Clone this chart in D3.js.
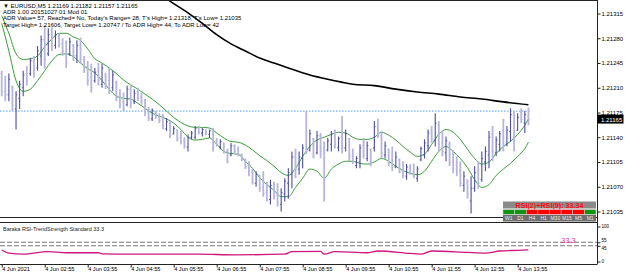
<!DOCTYPE html>
<html>
<head>
<meta charset="utf-8">
<script src="https://cdn.jsdelivr.net/npm/d3@7"></script>
<style>
  body { margin: 0; background: #fff; }
  svg { display: block; }
  text { font-family: "Liberation Sans", Arial, sans-serif; }
</style>
</head>
<body>
<div id="chart"></div>
<script>
// EURUSD M5 bars, 4 Jun 2021 01:55 .. 14:10
const barOpen = [1.21230,1.21205,1.21200,1.21210,1.21180,1.21195,1.21210,1.21230,1.21230,1.21248,
  1.21238,1.21255,1.21278,1.21258,1.21285,1.21270,1.21283,1.21272,1.21262,1.21258,
  1.21270,1.21255,1.21270,1.21250,1.21240,1.21225,1.21220,1.21235,1.21215,1.21228,
  1.21220,1.21210,1.21218,1.21198,1.21190,1.21186,1.21208,1.21190,1.21204,1.21196,
  1.21192,1.21176,1.21166,1.21176,1.21170,1.21166,1.21152,1.21160,1.21145,1.21150,
  1.21140,1.21136,1.21126,1.21140,1.21140,1.21152,1.21146,1.21150,1.21144,1.21150,
  1.21136,1.21126,1.21132,1.21120,1.21115,1.21128,1.21122,1.21116,1.21108,1.21100,
  1.21090,1.21075,1.21086,1.21070,1.21062,1.21052,1.21072,1.21058,1.21045,1.21060,
  1.21075,1.21088,1.21112,1.21095,1.21110,1.21128,1.21122,1.21138,1.21118,1.21142,
  1.21125,1.21122,1.21130,1.21145,1.21125,1.21140,1.21125,1.21138,1.21115,1.21100,
  1.21105,1.21128,1.21110,1.21122,1.21125,1.21155,1.21142,1.21115,1.21122,1.21108,
  1.21098,1.21108,1.21095,1.21085,1.21098,1.21092,1.21082,1.21108,1.21115,1.21128,
  1.21150,1.21135,1.21158,1.21132,1.21118,1.21130,1.21106,1.21100,1.21092,1.21072,
  1.21080,1.21050,1.21068,1.21092,1.21080,1.21105,1.21115,1.21145,1.21118,1.21130,
  1.21150,1.21130,1.21148,1.21170,1.21150,1.21175,1.21160,1.21169];
const barHigh = [1.21234,1.21227,1.21230,1.21213,1.21205,1.21220,1.21234,1.21241,1.21252,1.21255,
  1.21269,1.21284,1.21298,1.21294,1.21295,1.21291,1.21287,1.21280,1.21277,1.21281,
  1.21272,1.21277,1.21281,1.21255,1.21248,1.21244,1.21238,1.21245,1.21244,1.21231,
  1.21238,1.21234,1.21220,1.21208,1.21203,1.21213,1.21213,1.21208,1.21210,1.21203,
  1.21194,1.21183,1.21181,1.21177,1.21174,1.21173,1.21167,1.21163,1.21156,1.21151,
  1.21149,1.21140,1.21144,1.21149,1.21156,1.21156,1.21153,1.21151,1.21151,1.21153,
  1.21139,1.21137,1.21132,1.21124,1.21132,1.21130,1.21127,1.21117,1.21110,1.21106,
  1.21096,1.21092,1.21087,1.21092,1.21077,1.21080,1.21077,1.21075,1.21068,1.21082,
  1.21096,1.21120,1.21124,1.21120,1.21130,1.21177,1.21151,1.21139,1.21149,1.21146,
  1.21134,1.21139,1.21149,1.21151,1.21141,1.21170,1.21151,1.21139,1.21124,1.21113,
  1.21130,1.21139,1.21134,1.21124,1.21163,1.21166,1.21149,1.21134,1.21124,1.21127,
  1.21120,1.21110,1.21106,1.21102,1.21102,1.21103,1.21099,1.21127,1.21137,1.21151,
  1.21156,1.21174,1.21163,1.21149,1.21141,1.21134,1.21122,1.21113,1.21106,1.21092,
  1.21080,1.21085,1.21099,1.21106,1.21120,1.21127,1.21149,1.21156,1.21141,1.21149,
  1.21166,1.21156,1.21181,1.21177,1.21174,1.21181,1.21177,1.21182];
const barLow = [1.21198,1.21191,1.21191,1.21177,1.21151,1.21180,1.21198,1.21213,1.21227,1.21224,
  1.21234,1.21241,1.21237,1.21255,1.21262,1.21265,1.21267,1.21255,1.21238,1.21255,
  1.21248,1.21245,1.21244,1.21231,1.21213,1.21203,1.21217,1.21213,1.21210,1.21208,
  1.21201,1.21205,1.21191,1.21181,1.21177,1.21184,1.21181,1.21187,1.21191,1.21186,
  1.21170,1.21163,1.21163,1.21166,1.21160,1.21151,1.21149,1.21139,1.21144,1.21134,
  1.21130,1.21124,1.21120,1.21137,1.21137,1.21144,1.21141,1.21143,1.21139,1.21120,
  1.21127,1.21123,1.21117,1.21103,1.21113,1.21116,1.21113,1.21106,1.21095,1.21085,
  1.21073,1.21070,1.21063,1.21056,1.21049,1.21045,1.21052,1.21042,1.21035,1.21049,
  1.21053,1.21068,1.21082,1.21087,1.21096,1.21116,1.21120,1.21110,1.21116,1.21110,
  1.21049,1.21120,1.21120,1.21124,1.21120,1.21117,1.21120,1.21106,1.21102,1.21096,
  1.21096,1.21110,1.21106,1.21099,1.21120,1.21139,1.21110,1.21110,1.21099,1.21092,
  1.21096,1.21089,1.21082,1.21080,1.21087,1.21082,1.21077,1.21106,1.21110,1.21120,
  1.21132,1.21127,1.21120,1.21113,1.21106,1.21099,1.21089,1.21085,1.21070,1.21063,
  1.21053,1.21032,1.21063,1.21067,1.21077,1.21092,1.21096,1.21106,1.21113,1.21120,
  1.21120,1.21127,1.21134,1.21120,1.21149,1.21160,1.21146,1.21157];
const barClose = [1.21205,1.21200,1.21222,1.21185,1.21200,1.21215,1.21228,1.21220,1.21248,1.21235,
  1.21262,1.21278,1.21250,1.21285,1.21270,1.21285,1.21272,1.21262,1.21245,1.21275,
  1.21255,1.21270,1.21250,1.21238,1.21220,1.21210,1.21232,1.21220,1.21238,1.21212,
  1.21206,1.21228,1.21196,1.21186,1.21180,1.21208,1.21188,1.21202,1.21195,1.21190,
  1.21174,1.21168,1.21178,1.21170,1.21164,1.21156,1.21162,1.21143,1.21152,1.21138,
  1.21134,1.21128,1.21140,1.21146,1.21152,1.21148,1.21151,1.21146,1.21149,1.21126,
  1.21130,1.21134,1.21120,1.21106,1.21128,1.21120,1.21116,1.21108,1.21098,1.21088,
  1.21076,1.21088,1.21068,1.21060,1.21052,1.21072,1.21056,1.21048,1.21062,1.21078,
  1.21090,1.21112,1.21095,1.21112,1.21125,1.21120,1.21145,1.21115,1.21142,1.21120,
  1.21080,1.21135,1.21145,1.21130,1.21138,1.21125,1.21145,1.21112,1.21105,1.21110,
  1.21125,1.21115,1.21128,1.21105,1.21155,1.21142,1.21118,1.21128,1.21105,1.21098,
  1.21112,1.21092,1.21086,1.21098,1.21090,1.21085,1.21095,1.21124,1.21132,1.21146,
  1.21138,1.21160,1.21130,1.21120,1.21135,1.21104,1.21095,1.21090,1.21075,1.21085,
  1.21060,1.21068,1.21090,1.21075,1.21110,1.21120,1.21140,1.21120,1.21136,1.21145,
  1.21128,1.21150,1.21172,1.21135,1.21168,1.21165,1.21172,1.21165];

// green band lines (bar index -> value)
const bandIdx = [0,2,4,6,8,10,12,14,16,18,20,22,24,26,28,30,32,34,36,38,40,42,44,46,48,50,
  52,54,56,58,60,62,64,66,68,70,72,74,76,78,80,82,84,86,88,90,92,94,96,98,100,
  102,104,106,108,110,112,114,116,118,120,122,124,126,128,130,132,134,136,138,140,142,144,146,147];
const bandUpper = [1.21312,1.21287,1.21258,1.21250,1.21251,1.21255,1.21268,1.21279,1.21287,1.21287,
  1.21282,1.21277,1.21265,1.21251,1.21245,1.21238,1.21230,1.21221,1.21214,1.21208,
  1.21201,1.21194,1.21186,1.21177,1.21168,1.21161,1.21156,1.21154,1.21154,1.21153,
  1.21146,1.21139,1.21134,1.21133,1.21129,1.21122,1.21114,1.21107,1.21099,1.21090,
  1.21086,1.21096,1.21113,1.21127,1.21136,1.21140,1.21144,1.21147,1.21146,1.21140,
  1.21137,1.21137,1.21140,1.21147,1.21143,1.21136,1.21127,1.21119,1.21113,1.21116,
  1.21130,1.21144,1.21151,1.21147,1.21137,1.21123,1.21110,1.21102,1.21105,1.21117,
  1.21127,1.21134,1.21144,1.21157,1.21166];
const bandLower = [1.21301,1.21262,1.21220,1.21205,1.21208,1.21220,1.21234,1.21248,1.21257,1.21258,
  1.21254,1.21245,1.21237,1.21231,1.21220,1.21208,1.21198,1.21195,1.21194,1.21188,
  1.21181,1.21174,1.21170,1.21166,1.21160,1.21151,1.21140,1.21136,1.21137,1.21139,
  1.21130,1.21120,1.21117,1.21116,1.21106,1.21096,1.21083,1.21073,1.21065,1.21056,
  1.21056,1.21069,1.21082,1.21095,1.21092,1.21082,1.21095,1.21102,1.21106,1.21106,
  1.21103,1.21102,1.21105,1.21110,1.21106,1.21099,1.21093,1.21089,1.21087,1.21092,
  1.21106,1.21120,1.21127,1.21120,1.21110,1.21097,1.21080,1.21069,1.21073,1.21086,
  1.21095,1.21103,1.21113,1.21124,1.21133];

// long moving average (black)
const maIdx = [46,48,52,56,60,64,68,72,76,80,86,92,98,104,110,116,122,128,134,140,147];
const maValue = [1.21336,1.21329,1.21316,1.21301,1.21285,1.21272,1.21262,1.21252,1.21245,1.21238,
  1.21228,1.21221,1.21215,1.21213,1.21208,1.21204,1.21201,1.21197,1.21194,1.21190,1.21186];

const levelLine = 1.21177;
const lastPrice = 1.21165;
const priceTicks = [1.21315,1.21280,1.21245,1.21210,1.21175,1.21140,1.21105,1.21070,1.21035];

const timeTickIdx = [0,12,24,36,48,60,72,84,96,108,120,132,144];
const timeLabels = ["4 Jun 2021","4 Jun 02:55","4 Jun 03:55","4 Jun 04:55","4 Jun 05:55","4 Jun 06:55",
  "4 Jun 07:55","4 Jun 08:55","4 Jun 09:55","4 Jun 10:55","4 Jun 11:55","4 Jun 12:55","4 Jun 13:55"];

const headerLines = [
  "\u25BC EURUSD,M5  1.21169 1.21182 1.21157 1.21165",
  "ADR 1.00 20151027 01 Mod 01",
  "ADR Value= 57, Reached= No, Today's Range= 28, T's High= 1.21318, T's Low= 1.21035",
  "Target High= 1.21606, Target Low= 1.20747 / To ADR High= 44, To ADR Low= 42"
];

// sub window
const rsiIdx = [0,2,6,13,18,27,28,37,55,65,79,81,89,90,93,102,105,114,117,120,130,135,139,144,147];
const rsiValue = [33,24,21,28,25,25,22,21,21,19,21,28,29,21,28,25,30,23,21,30,26,24,30,32,33.3];
const rsiLevels = [55,45];
const rsiTicks = [100,55,45,0];
const subTitle = "Baraka RSI-TrendStrength Standard 33.3";
const subValue = "33.3";

// RSI panel widget
const widgetTitle = "RSI(2)+RSI(9): 33.34";
const tfNames = ["W1","D1","H4","H1","M30","M15","M5","M1"];
const tfUp = [true,true,false,false,false,false,false,true];

const W = 625, H = 275, plotR = 597, mainB = 217, subT = 222, axisY = 264;

const svg = d3.select("#chart").append("svg")
  .attr("width", W).attr("height", H);

const x = d3.scaleLinear().domain([0, 147]).range([1.7, 528.4]);
const y = d3.scaleLinear().domain([1.21035, 1.21315]).range([211.5, 13.5]);
const ys = d3.scaleLinear().domain([0, 100]).range([261.5, 226.5]);

svg.append("clipPath").attr("id", "mainClip")
  .append("rect").attr("x", 0).attr("y", 0).attr("width", plotR).attr("height", mainB);

const main = svg.append("g").attr("clip-path", "url(#mainClip)");

// frame lines
const frame = [[0, 0.5, plotR, 0.5], [0, mainB + 0.5, plotR, mainB + 0.5],
               [0, subT + 0.5, plotR, subT + 0.5], [0, axisY + 0.5, plotR, axisY + 0.5],
               [plotR + 0.5, 0, plotR + 0.5, axisY + 0.5]];
svg.selectAll(".frame").data(frame).enter().append("line")
  .attr("x1", d => d[0]).attr("y1", d => d[1]).attr("x2", d => d[2]).attr("y2", d => d[3])
  .attr("stroke", "#222").attr("stroke-width", 1);

// level line
main.append("line")
  .attr("x1", 0).attr("x2", x(147) + 2)
  .attr("y1", y(levelLine)).attr("y2", y(levelLine))
  .attr("stroke", "#4aa3ff").attr("stroke-width", 1).attr("stroke-dasharray", "1.5,1.5");

// black MA
const maLine = d3.line().x(d => x(d[0])).y(d => y(d[1])).curve(d3.curveMonotoneX);
main.append("path").datum(maIdx.map((d, i) => [d, maValue[i]]))
  .attr("fill", "none").attr("stroke", "#000").attr("stroke-width", 1.6).attr("d", maLine);

// bands
[bandUpper, bandLower].forEach(arr => {
  main.append("path").datum(bandIdx.map((d, i) => [d, arr[i]]))
    .attr("fill", "none").attr("stroke", "#3a9e3a").attr("stroke-width", 1).attr("d", maLine);
});

// bars
const bars = barOpen.map((o, i) => ({i, o, h: barHigh[i], l: barLow[i], c: barClose[i]}));
const upCol = "#4c4c9a", dnCol = "#b6b6dc";
const g = main.selectAll(".bar").data(bars).enter().append("g");
g.append("line")
  .attr("x1", d => x(d.i)).attr("x2", d => x(d.i))
  .attr("y1", d => y(d.h)).attr("y2", d => y(d.l))
  .attr("stroke", d => d.c >= d.o ? upCol : dnCol)
  .attr("stroke-width", d => d.c >= d.o ? 1.1 : 1.8);
g.append("line")
  .attr("x1", d => x(d.i) - 1.3).attr("x2", d => x(d.i))
  .attr("y1", d => y(d.o)).attr("y2", d => y(d.o))
  .attr("stroke", d => d.c >= d.o ? upCol : dnCol).attr("stroke-width", 0.9);
g.append("line")
  .attr("x1", d => x(d.i)).attr("x2", d => x(d.i) + 1.3)
  .attr("y1", d => y(d.c)).attr("y2", d => y(d.c))
  .attr("stroke", d => d.c >= d.o ? upCol : dnCol).attr("stroke-width", 0.9);

// header text
svg.selectAll(".hdr").data(headerLines).enter().append("text")
  .attr("x", 3).attr("y", (d, i) => 7.5 + i * 6.4)
  .attr("font-size", "6px").attr("fill", "#000")
  .text(d => d);

// price axis
const pAxis = svg.append("g").attr("transform", `translate(${plotR + 0.5},0)`)
  .call(d3.axisRight(y).tickValues(priceTicks).tickSize(3).tickFormat(d3.format(".5f")));
pAxis.select(".domain").remove();
pAxis.selectAll("text").attr("x", 4).attr("font-size", "6px").attr("fill", "#000")
  .attr("font-family", "Liberation Sans, Arial, sans-serif");
pAxis.selectAll("line").attr("stroke", "#222");

// last price tag
svg.append("rect").attr("x", plotR + 0.5).attr("y", y(lastPrice) - 5).attr("width", 26).attr("height", 9)
  .attr("fill", "#000");
svg.append("text").attr("x", plotR + 4).attr("y", y(lastPrice) + 2)
  .attr("font-size", "6px").attr("fill", "#fff").text(d3.format(".5f")(lastPrice));

// sub window
svg.selectAll(".lvl").data(rsiLevels).enter().append("line")
  .attr("x1", 0).attr("x2", plotR).attr("y1", d => ys(d)).attr("y2", d => ys(d))
  .attr("stroke", "#777").attr("stroke-width", 1).attr("stroke-dasharray", "5,2");

svg.append("path").datum(rsiIdx.map((d, i) => [d, rsiValue[i]]))
  .attr("fill", "none").attr("stroke", "#d0157f").attr("stroke-width", 1.3)
  .attr("d", d3.line().x(d => x(d[0])).y(d => ys(d[1])).curve(d3.curveMonotoneX));

svg.append("text").attr("x", 3).attr("y", 231).attr("font-size", "5.5px").attr("fill", "#222").text(subTitle);
svg.append("text").attr("x", 561).attr("y", 243).attr("font-size", "7.5px").attr("fill", "#e0409a").text(subValue);

const sAxis = svg.append("g").attr("transform", `translate(${plotR + 0.5},0)`)
  .call(d3.axisRight(ys).tickValues(rsiTicks).tickSize(3));
sAxis.select(".domain").remove();
sAxis.selectAll("text").attr("x", 4).attr("font-size", "4.6px").attr("fill", "#000")
  .attr("font-family", "Liberation Sans, Arial, sans-serif")
  .attr("dy", d => d === 55 ? "-0.1em" : d === 45 ? "0.75em" : "0.32em");
sAxis.selectAll("line").attr("stroke", "#222");

// time axis
const tAxis = svg.append("g").attr("transform", `translate(0,${axisY + 0.5})`)
  .call(d3.axisBottom(x).tickValues(timeTickIdx).tickSize(3).tickFormat((d, i) => timeLabels[i]));
tAxis.select(".domain").remove();
tAxis.selectAll("text").attr("text-anchor", "start").attr("x", 0).attr("y", 3)
  .attr("font-size", "5.6px").attr("fill", "#000")
  .attr("font-family", "Liberation Sans, Arial, sans-serif");
tAxis.selectAll("line").attr("stroke", "#222");

// RSI widget
const wx = 503, ww = 93, cw = ww / tfNames.length;
svg.append("rect").attr("x", wx).attr("y", 201.5).attr("width", ww).attr("height", 7).attr("fill", "#8a8a8a");
svg.append("text").attr("x", wx + ww / 2).attr("y", 207.6).attr("text-anchor", "middle")
  .attr("font-size", "7.2px").attr("font-weight", "bold").attr("fill", "#ff1010").text(widgetTitle);
svg.selectAll(".cell").data(tfNames).enter().append("rect")
  .attr("x", (d, i) => wx + i * cw).attr("y", 209.5).attr("width", cw).attr("height", 5)
  .attr("fill", (d, i) => tfUp[i] ? "#129412" : "#ff0000")
  .attr("stroke", "#d8d8d8").attr("stroke-width", 0.5);
svg.append("rect").attr("x", wx).attr("y", 215).attr("width", ww).attr("height", 6.5).attr("fill", "#6e6e6e");
svg.selectAll(".tf").data(tfNames).enter().append("text")
  .attr("x", (d, i) => wx + i * cw + cw / 2).attr("y", 220.3).attr("text-anchor", "middle")
  .attr("font-size", "5px").attr("fill", "#ececec").text(d => d);
</script>
</body>
</html>
